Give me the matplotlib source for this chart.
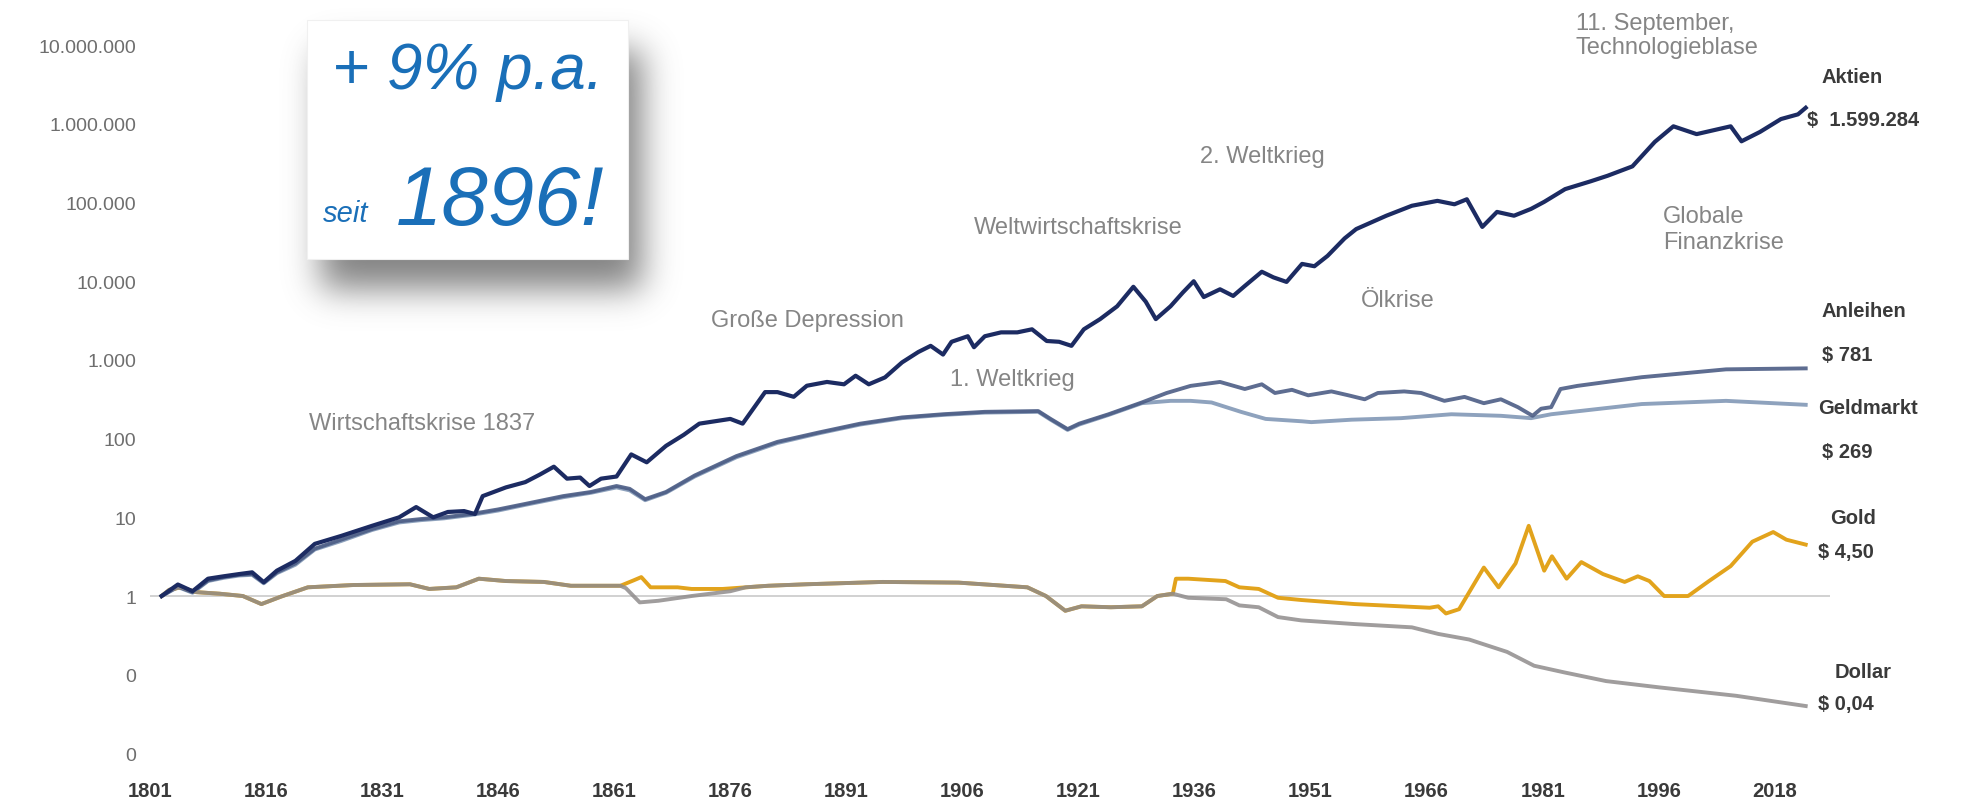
import numpy as np
import matplotlib
matplotlib.use("Agg")
import matplotlib.pyplot as plt
from matplotlib.patches import Rectangle

# ── data (x = position on the year axis) ──────────────────────────────────────

stock_years = [1802.5, 1804.6, 1806.5, 1808.5, 1810.5, 1812.5, 1814.2, 1815.7, 1817.4, 1819.8,
               1822.3, 1825.7, 1829.7, 1833.2, 1835.4, 1837.6, 1839.5, 1841.6, 1843.0, 1844.0,
               1847.0, 1849.5, 1851.4, 1853.2, 1854.9, 1856.6, 1857.8, 1859.3, 1861.3, 1863.2,
               1865.2, 1867.7, 1870.0, 1872.0, 1876.0, 1877.6, 1880.5, 1882.1, 1884.2, 1885.9,
               1888.5, 1890.7, 1892.2, 1893.9, 1896.0, 1898.2, 1900.3, 1901.9, 1903.5, 1904.6,
               1906.7, 1907.5, 1908.9, 1911.0, 1913.1, 1915.0, 1916.9, 1918.5, 1920.1, 1921.7,
               1923.8, 1926.0, 1928.1, 1929.7, 1931.0, 1932.9, 1934.5, 1935.9, 1937.2, 1939.3,
               1941.0, 1942.5, 1944.7, 1946.2, 1947.9, 1949.9, 1951.5, 1953.2, 1955.4, 1956.9,
               1960.8, 1964.1, 1967.4, 1969.6, 1971.2, 1973.2, 1975.1, 1977.3, 1979.5, 1981.2,
               1983.9, 1987.2, 1989.4, 1992.6, 1995.5, 1997.9, 2000.9, 2005.3, 2006.7, 2009.1,
               2011.8, 2014.0, 2015.0]
stock_vals = [1.0, 1.4, 1.15, 1.66, 1.78, 1.9, 2.0, 1.5, 2.1, 2.8,
              4.6, 5.8, 7.8, 10, 13.5, 10, 11.7, 12, 11, 18.6,
              24, 28, 35, 44, 31, 32, 25, 31, 33, 63,
              50, 81, 112, 155, 178, 155, 390, 390, 340, 470,
              525, 490, 630, 490, 600, 930, 1260, 1510, 1170, 1700,
              2000, 1450, 2000, 2240, 2240, 2450, 1740, 1700, 1510, 2450,
              3300, 4800, 8500, 5500, 3300, 4800, 7200, 10000, 6300, 7900,
              6500, 8700, 13200, 11200, 9800, 16600, 15500, 21000, 35000, 46000,
              68000, 91000, 105000, 95000, 110000, 49000, 76000, 68000, 83000, 102000,
              148000, 186000, 219000, 288000, 590000, 930000, 740000, 930000, 600000, 790000,
              1150000, 1320000, 1599284]

bond_years = [1802.5, 1804.6, 1806.5, 1808.5, 1810.5, 1812.5, 1814.2, 1815.7, 1817.4, 1819.8,
              1822.3, 1825.7, 1829.7, 1833.2, 1836.0, 1839.0, 1842.5, 1846.0, 1849.5, 1854.4,
              1858.0, 1861.3, 1863.0, 1865.0, 1867.7, 1871.4, 1876.8, 1882.1, 1887.5, 1892.8,
              1898.2, 1903.5, 1908.9, 1915.8, 1917.4, 1919.6, 1921.1, 1924.9, 1929.2, 1932.4,
              1935.5, 1939.3, 1942.5, 1944.7, 1946.4, 1948.6, 1950.7, 1953.7, 1955.9, 1958.0,
              1959.7, 1963.1, 1965.3, 1968.3, 1970.9, 1973.4, 1975.6, 1977.8, 1979.7, 1980.8,
              1982.1, 1983.3, 1985.5, 1993.8, 2004.7, 2015.0]
bond_vals = [1.0, 1.32, 1.12, 1.58, 1.74, 1.86, 1.9, 1.48, 2.0, 2.6,
             4.0, 5.2, 7.1, 8.9, 9.5, 10, 11, 12.6, 14.8, 18.6,
             21, 25, 23, 17, 21, 34, 60, 91, 120, 155,
             186, 204, 219, 224, 178, 132, 155, 204, 288, 380,
             468, 525, 427, 490, 380, 417, 355, 398, 355, 316,
             380, 398, 380, 302, 339, 282, 316, 251, 195, 240,
             251, 427, 468, 603, 759, 781]

bill_years = [1802.5, 1804.6, 1806.5, 1808.5, 1810.5, 1812.5, 1814.2, 1815.7, 1817.4, 1819.8,
              1822.3, 1825.7, 1829.7, 1833.2, 1836.0, 1839.0, 1842.5, 1846.0, 1849.5, 1854.4,
              1858.0, 1861.3, 1863.0, 1865.0, 1867.7, 1871.4, 1876.8, 1882.1, 1887.5, 1892.8,
              1898.2, 1903.5, 1908.9, 1915.8, 1917.4, 1919.6, 1921.1, 1924.9, 1929.2, 1932.9,
              1935.5, 1938.2, 1942.0, 1945.2, 1949.9, 1951.1, 1956.3, 1962.7, 1969.2, 1975.6,
              1979.5, 1982.1, 1993.8, 2004.7, 2015.0]
bill_vals = [1.0, 1.3, 1.1, 1.55, 1.7, 1.82, 1.86, 1.45, 1.95, 2.5,
             3.9, 5.0, 6.9, 8.6, 9.2, 9.7, 10.7, 12.2, 14.4, 18.0,
             20.5, 24, 22, 16.5, 20.5, 33, 58, 88, 117, 151,
             182, 200, 214, 219, 174, 129, 151, 200, 282, 302,
             302, 288, 219, 178, 166, 162, 174, 182, 204, 195,
             182, 204, 275, 302, 269]

gold_years = [1802.5, 1803.5, 1805.0, 1807.0, 1810.0, 1813.0, 1815.4, 1817.9, 1821.4, 1827.3,
              1834.6, 1837.1, 1840.6, 1843.5, 1847.0, 1851.9, 1855.4, 1861.8, 1863.5, 1864.5,
              1865.7, 1869.2, 1871.0, 1875.0, 1878.0, 1880.9, 1885.8, 1895.7, 1905.5, 1914.4,
              1916.8, 1919.3, 1921.4, 1925.2, 1929.2, 1931.2, 1933.2, 1933.6, 1935.2, 1940.0,
              1941.8, 1944.3, 1946.8, 1949.8, 1956.7, 1966.4, 1967.5, 1968.5, 1970.2, 1973.4,
              1975.3, 1977.5, 1979.2, 1981.2, 1982.2, 1984.1, 1986.0, 1988.8, 1991.6, 1993.3,
              1994.8, 1996.7, 1999.8, 2002.5, 2005.3, 2008.1, 2010.8, 2012.5, 2015.0]
gold_vals = [1.0, 1.2, 1.29, 1.12, 1.07, 1.0, 0.79, 0.98, 1.29, 1.38,
             1.41, 1.23, 1.29, 1.66, 1.55, 1.51, 1.35, 1.35, 1.58, 1.74,
             1.29, 1.29, 1.23, 1.23, 1.29, 1.35, 1.41, 1.51, 1.48, 1.29,
             1.0, 0.65, 0.74, 0.72, 0.74, 1.0, 1.07, 1.66, 1.66, 1.55,
             1.29, 1.23, 0.95, 0.89, 0.79, 0.71, 0.74, 0.60, 0.68, 2.3,
             1.29, 2.6, 7.8, 2.1, 3.2, 1.66, 2.7, 1.9, 1.51, 1.78,
             1.55, 1.0, 1.0, 1.55, 2.4, 4.9, 6.5, 5.2, 4.5]

dollar_years = [1802.5, 1803.5, 1805.0, 1807.0, 1810.0, 1813.0, 1815.4, 1817.9, 1821.4, 1827.3,
                1834.6, 1837.1, 1840.6, 1843.5, 1847.0, 1851.9, 1855.4, 1861.8, 1862.5, 1864.3,
                1866.7, 1871.0, 1876.0, 1878.0, 1880.9, 1885.8, 1895.7, 1905.5, 1914.4, 1916.8,
                1919.3, 1921.4, 1925.2, 1929.2, 1931.2, 1933.2, 1935.2, 1940.1, 1941.8, 1944.3,
                1946.8, 1949.8, 1956.7, 1964.1, 1967.5, 1971.5, 1976.4, 1979.9, 1983.8, 1989.2,
                1996.1, 2006.0, 2015.0]
dollar_vals = [1.0, 1.2, 1.29, 1.12, 1.07, 1.0, 0.79, 0.98, 1.29, 1.38,
               1.41, 1.23, 1.29, 1.66, 1.55, 1.51, 1.35, 1.35, 1.26, 0.83,
               0.87, 1.0, 1.15, 1.29, 1.35, 1.41, 1.51, 1.48, 1.29, 1.0,
               0.65, 0.74, 0.72, 0.74, 1.0, 1.07, 0.95, 0.91, 0.76, 0.72,
               0.54, 0.49, 0.44, 0.40, 0.33, 0.28, 0.195, 0.13, 0.107, 0.083,
               0.069, 0.054, 0.04]

x_ticks = [1801, 1816, 1831, 1846, 1861, 1876, 1891, 1906, 1921, 1936, 1951, 1966, 1981, 1996, 2011]
x_labels = ["1801", "1816", "1831", "1846", "1861", "1876", "1891", "1906", "1921", "1936",
            "1951", "1966", "1981", "1996", "2018"]
y_ticks = [1e-2, 1e-1, 1, 10, 100, 1e3, 1e4, 1e5, 1e6, 1e7]
y_labels = ["0", "0", "1", "10", "100", "1.000", "10.000", "100.000", "1.000.000", "10.000.000"]

end_labels = [("Aktien", "$  1.599.284"), ("Anleihen", "$ 781"), ("Geldmarkt", "$ 269"),
              ("Gold", "$ 4,50"), ("Dollar", "$ 0,04")]

events = ["Wirtschaftskrise 1837", "Große Depression", "1. Weltkrieg", "Weltwirtschaftskrise",
          "2. Weltkrieg", "Ölkrise", "11. September,\nTechnologieblase", "Globale\nFinanzkrise"]

# ── figure ───────────────────────────────────────────────────────────────────

W, H = 1968, 803
plt.rcParams["font.family"] = ["Liberation Sans", "DejaVu Sans"]
fig = plt.figure(figsize=(W / 100, H / 100), dpi=100)
fig.patch.set_facecolor("white")

# axes placed in pixels: left 150, right 1830, top 30, bottom 770
ax = fig.add_axes([150 / W, (H - 770) / H, 1680 / W, 740 / H])
ax.patch.set_visible(False)
ax.set_yscale("log")
ax.set_xlim(1801.64, 2018.14)
ax.set_ylim(10 ** -2.198, 10 ** 7.205)

ax.axhline(1, color="#c9c9c9", lw=1.2, zorder=1)

ax.plot(bill_years, bill_vals, color="#8ea2bd", lw=2.8, zorder=3)
ax.plot(bond_years, bond_vals, color="#4c5d85", lw=2.8, zorder=4, alpha=0.9)
ax.plot(gold_years, gold_vals, color="#e2a31c", lw=2.8, zorder=3)
ax.plot(dollar_years, dollar_vals, color="#8f8c8c", lw=2.8, zorder=4, alpha=0.85)
ax.plot(stock_years, stock_vals, color="#1c2b62", lw=3.0, zorder=5)

for s in ax.spines.values():
    s.set_visible(False)
ax.set_xticks(x_ticks)
ax.set_xticklabels(x_labels, fontsize=14.5, fontweight="bold", color="#3a3a3a")
ax.set_yticks(y_ticks)
ax.set_yticklabels(y_labels, fontsize=14, color="#6e6e6e")
ax.minorticks_off()
ax.tick_params(axis="both", length=0)
ax.tick_params(axis="x", pad=9)
ax.tick_params(axis="y", pad=10)

# event annotations
ev_style = dict(fontsize=17, color="#858585", zorder=6)
ax.text(1836.2, 158, events[0], ha="center", va="center", **ev_style)
ax.text(1886.0, 3.2e3, events[1], ha="center", va="center", **ev_style)
ax.text(1912.5, 575, events[2], ha="center", va="center", **ev_style)
ax.text(1921.0, 4.9e4, events[3], ha="center", va="center", **ev_style)
ax.text(1944.8, 3.9e5, events[4], ha="center", va="center", **ev_style)
ax.text(1962.3, 5.8e3, events[5], ha="center", va="center", **ev_style)
ax.text(1985.3, 1.35e7, events[6], ha="left", va="center", linespacing=1.15, **ev_style)
ax.text(1996.6, 4.6e4, events[7], ha="left", va="center", linespacing=1.25, **ev_style)

# labels at the line ends
lab_style = dict(fontsize=14.5, fontweight="bold", color="#3a3a3a", va="center", ha="left")
end_pos = [((2017.1, 4.0e6), (2015.2, 1.15e6)),
           ((2017.1, 4.3e3), (2017.1, 1.17e3)),
           ((2016.6, 250), (2017.1, 69)),
           ((2018.1, 10), (2016.6, 3.7)),
           ((2018.8, 0.11), (2016.6, 0.043))]
for (name, amount), (p1, p2) in zip(end_labels, end_pos):
    ax.text(p1[0], p1[1], name, **lab_style)
    ax.text(p2[0], p2[1], amount, **lab_style)

# ── inset box with soft drop shadow ──────────────────────────────────────────

bx0, bx1, by0, by1 = 307, 628, 21, 260          # pixel box, top-origin
sx0, sy0, sw, sh = 240, 0, 500, 350              # shadow canvas, top-origin
mask = np.zeros((sh, sw))
mask[by0 + 30 - sy0:by1 + 30 - sy0, bx0 + 14 - sx0:bx1 + 14 - sx0] = 1.0
sig = 17
k = np.exp(-np.arange(-3 * sig, 3 * sig + 1) ** 2 / (2 * sig ** 2))
k /= k.sum()
mask = np.apply_along_axis(lambda r: np.convolve(r, k, mode="same"), 1, mask)
mask = np.apply_along_axis(lambda c: np.convolve(c, k, mode="same"), 0, mask)
shadow = np.zeros((sh, sw, 4))
shadow[..., :3] = 0.35
shadow[..., 3] = 0.75 * mask
fig.figimage(shadow, xo=sx0, yo=H - sy0 - sh, origin="upper", zorder=1)

fig.add_artist(Rectangle((bx0 / W, 1 - by1 / H), (bx1 - bx0) / W, (by1 - by0) / H,
                         transform=fig.transFigure, facecolor="white",
                         edgecolor="#f0f0f0", lw=0.8, zorder=7))
blue = "#1a6fb8"
fig.text(468 / W, 1 - 72 / H, "+ 9% p.a.", fontsize=46, style="italic", color=blue,
         ha="center", va="center", zorder=8)
fig.text(346 / W, 1 - 214 / H, "seit", fontsize=21, style="italic", color=blue,
         ha="center", va="center", zorder=8)
fig.text(500 / W, 1 - 203 / H, "1896!", fontsize=60, style="italic", color=blue,
         ha="center", va="center", zorder=8)

fig.savefig("out.png", dpi=100)
